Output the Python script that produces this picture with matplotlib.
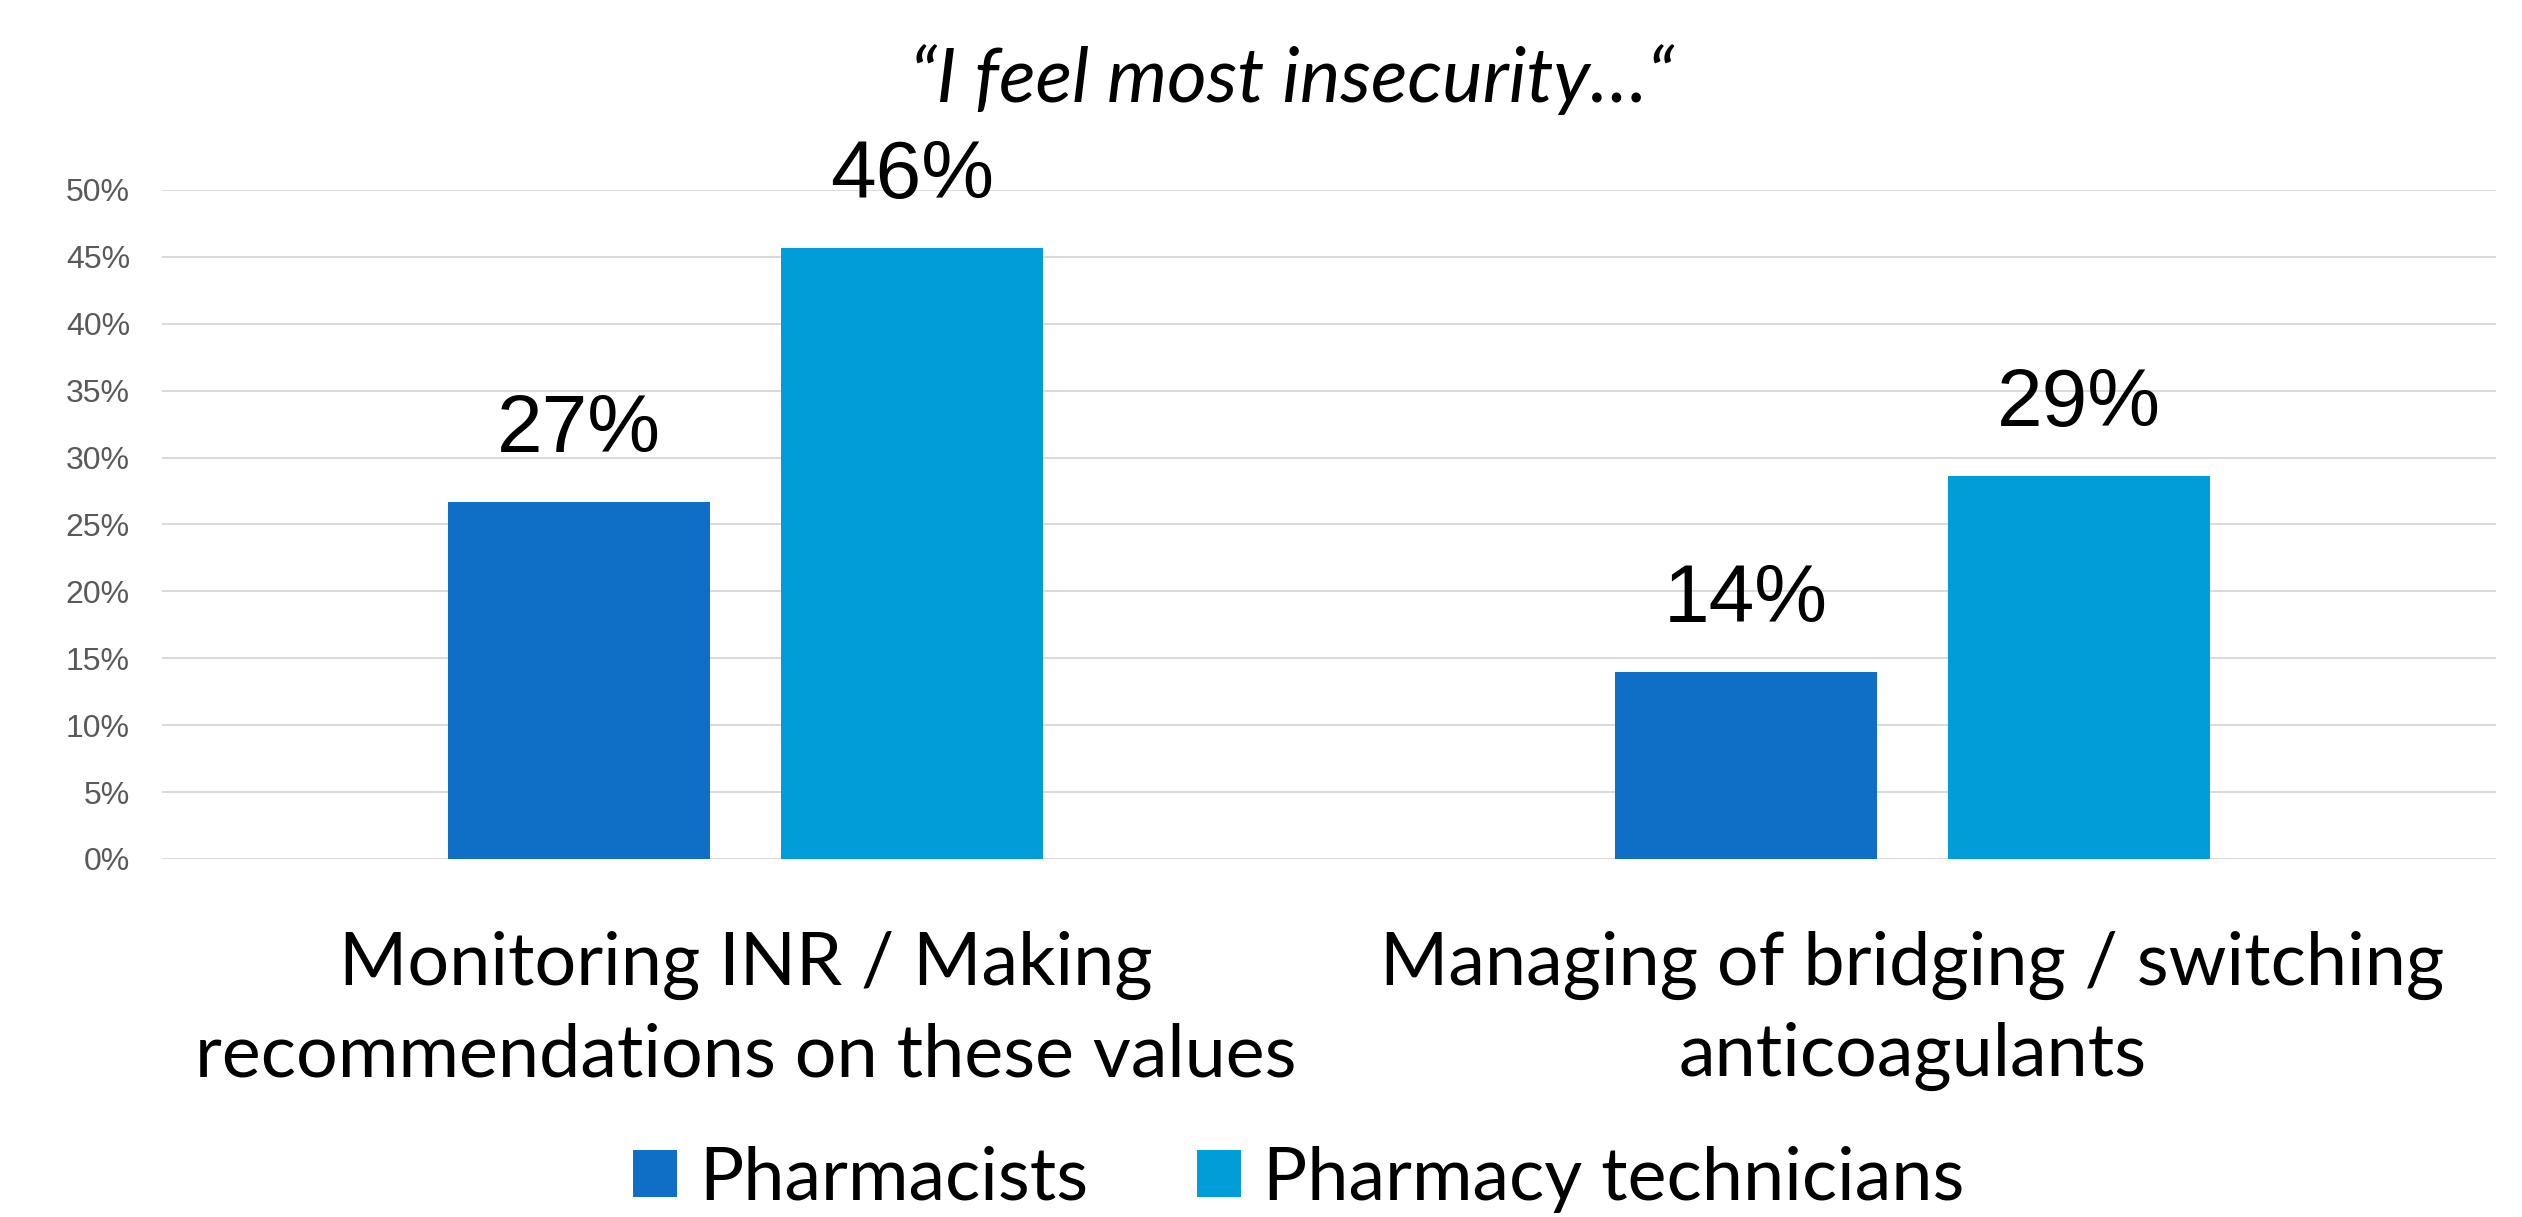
import matplotlib
matplotlib.use('Agg')
import matplotlib.pyplot as plt
from matplotlib.patches import Patch
import numpy as np

# data
categories = ["Monitoring INR / Making\nrecommendations on these values",
              "Managing of bridging / switching\nanticoagulants"]
series_names = ["Pharmacists", "Pharmacy technicians"]
pharmacists = [0.267, 0.140]
technicians = [0.457, 0.286]
y_ticks = [0.0, 0.05, 0.10, 0.15, 0.20, 0.25, 0.30, 0.35, 0.40, 0.45, 0.50]
title_text = "\u201cI feel most insecurity\u2026\u201c"

colors = ["#0F6FC6", "#009DD9"]
bar_width = 0.2245
offset = 0.1428

fig = plt.figure(figsize=(25.22, 12.17), dpi=100)
ax = fig.add_axes([0.0642, 0.2942, 0.9255, 0.5497])

x = np.arange(len(categories))
all_values = [pharmacists, technicians]
for i, (name, vals) in enumerate(zip(series_names, all_values)):
    pos = x + (offset if i else -offset)
    bars = ax.bar(pos, vals, width=bar_width, color=colors[i], zorder=3)
    for b, v in zip(bars, vals):
        ax.annotate(f"{v:.0%}", (b.get_x() + b.get_width() / 2, v),
                    xytext=(0, 36), textcoords='offset points',
                    ha='center', va='baseline', fontsize=59,
                    family='Liberation Sans', color='black')

ax.set_xlim(-0.5, 1.5)
ax.set_ylim(0, 0.5)
ax.set_yticks(y_ticks)
ax.set_yticklabels([f"{t:.0%}" for t in y_ticks], family='Liberation Sans',
                   fontsize=23, color='#595959')
ax.tick_params(axis='y', length=0, pad=23)
ax.set_xticks([])
ax.grid(True, axis='y', color='#D9D9D9', linewidth=1.4, zorder=0)
for s in ax.spines.values():
    s.set_visible(False)

# category labels below the plot
for xi, cat in zip(x, categories):
    ax.text(xi, -0.107, cat, transform=ax.get_xaxis_transform(),
            ha='center', va='top', fontsize=53, family='Lato',
            linespacing=1.42, color='black')

fig.text(0.5123, 1 - 102 / 1217, title_text, ha='center', va='baseline',
         fontsize=55, family='Lato', style='italic', color='black')

handles = [Patch(facecolor=c, edgecolor='none') for c in colors]
fig.legend(handles, series_names, loc='center', bbox_to_anchor=(0.515, 0.031),
           ncol=2, frameon=False, prop={'family': 'Lato', 'size': 53},
           handlelength=0.6, handleheight=0.6, handletextpad=0.3,
           columnspacing=1.48, borderpad=0)

fig.savefig('out.png', dpi=100)
